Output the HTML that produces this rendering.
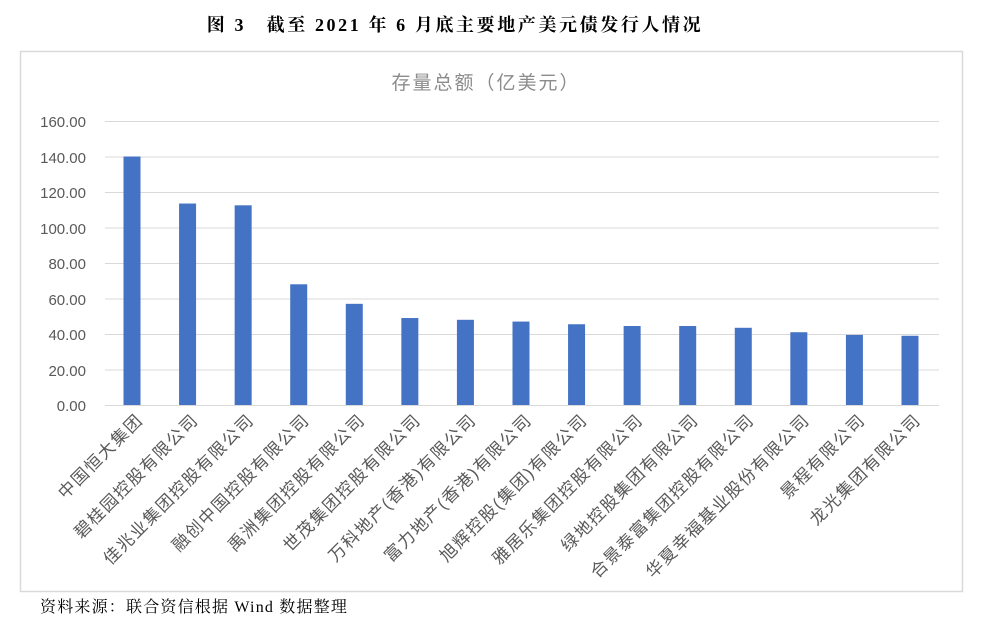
<!DOCTYPE html>
<html><head><meta charset="utf-8"><style>
body{margin:0;background:#fff;width:988px;height:623px;overflow:hidden}
svg{display:block}
</style></head><body>
<svg width="988" height="623" xmlns="http://www.w3.org/2000/svg">
<text x="455" y="31" text-anchor="middle" font-family="Liberation Serif, Noto Serif CJK SC, serif" font-size="18" font-weight="bold" letter-spacing="2.6" fill="#000">图 3　截至 2021 年 6 月底主要地产美元债发行人情况</text>
<rect x="20.5" y="51.5" width="942" height="540" fill="#fff" stroke="#d9d9d9" stroke-width="1.5"/>
<text x="486" y="89" text-anchor="middle" font-family="Liberation Sans, Noto Sans CJK SC, sans-serif" font-size="19" letter-spacing="2" fill="#8c8c8c">存量总额（亿美元）</text>
<g stroke="#d9d9d9" stroke-width="1">
<line x1="105" x2="939" y1="121.5" y2="121.5"/><line x1="105" x2="939" y1="157" y2="157"/>
<line x1="105" x2="939" y1="192.5" y2="192.5"/><line x1="105" x2="939" y1="228" y2="228"/>
<line x1="105" x2="939" y1="263.5" y2="263.5"/><line x1="105" x2="939" y1="299" y2="299"/>
<line x1="105" x2="939" y1="334.5" y2="334.5"/><line x1="105" x2="939" y1="370" y2="370"/>
<line x1="105" x2="939" y1="405.5" y2="405.5"/>
</g>
<g font-family="Liberation Sans, sans-serif" font-size="15" fill="#595959" text-anchor="end">
<text x="86" y="127">160.00</text><text x="86" y="163">140.00</text><text x="86" y="198">120.00</text>
<text x="86" y="234">100.00</text><text x="86" y="269">80.00</text><text x="86" y="305">60.00</text>
<text x="86" y="340">40.00</text><text x="86" y="376">20.00</text><text x="86" y="411">0.00</text>
</g>
<g fill="#4472c4" id="bars"></g>
<g id="labels" font-family="Liberation Sans, Noto Sans CJK SC, sans-serif" font-size="17" letter-spacing="1.6" fill="#595959" text-anchor="end"></g>
<text x="40" y="612" font-family="Liberation Serif, Noto Serif CJK SC, serif" font-size="16" letter-spacing="1.2" fill="#000">资料来源：联合资信根据 Wind 数据整理</text>
</svg>
<script>
var v=[140,113.5,112.5,68,57,49,48,47,45.5,44.5,44.5,43.5,41,39.5,39];
var n=["中国恒大集团","碧桂园控股有限公司","佳兆业集团控股有限公司","融创中国控股有限公司","禹洲集团控股有限公司","世茂集团控股有限公司","万科地产(香港)有限公司","富力地产(香港)有限公司","旭辉控股(集团)有限公司","雅居乐集团控股有限公司","绿地控股集团有限公司","合景泰富集团控股有限公司","华夏幸福基业股份有限公司","景程有限公司","龙光集团有限公司"];
var b=document.getElementById("bars"),l=document.getElementById("labels"),ns="http://www.w3.org/2000/svg";
for(var i=0;i<15;i++){var cx=132+i*55.57,h=v[i]*1.775;
var r=document.createElementNS(ns,"rect");r.setAttribute("x",cx-8.5);r.setAttribute("y",405-h);r.setAttribute("width",17);r.setAttribute("height",h);b.appendChild(r);
var t=document.createElementNS(ns,"text");var tx=cx+12,ty=421;t.setAttribute("x",tx);t.setAttribute("y",ty);t.setAttribute("transform","rotate(-45 "+tx+" "+ty+")");t.textContent=n[i];l.appendChild(t);}
</script>
</body></html>
